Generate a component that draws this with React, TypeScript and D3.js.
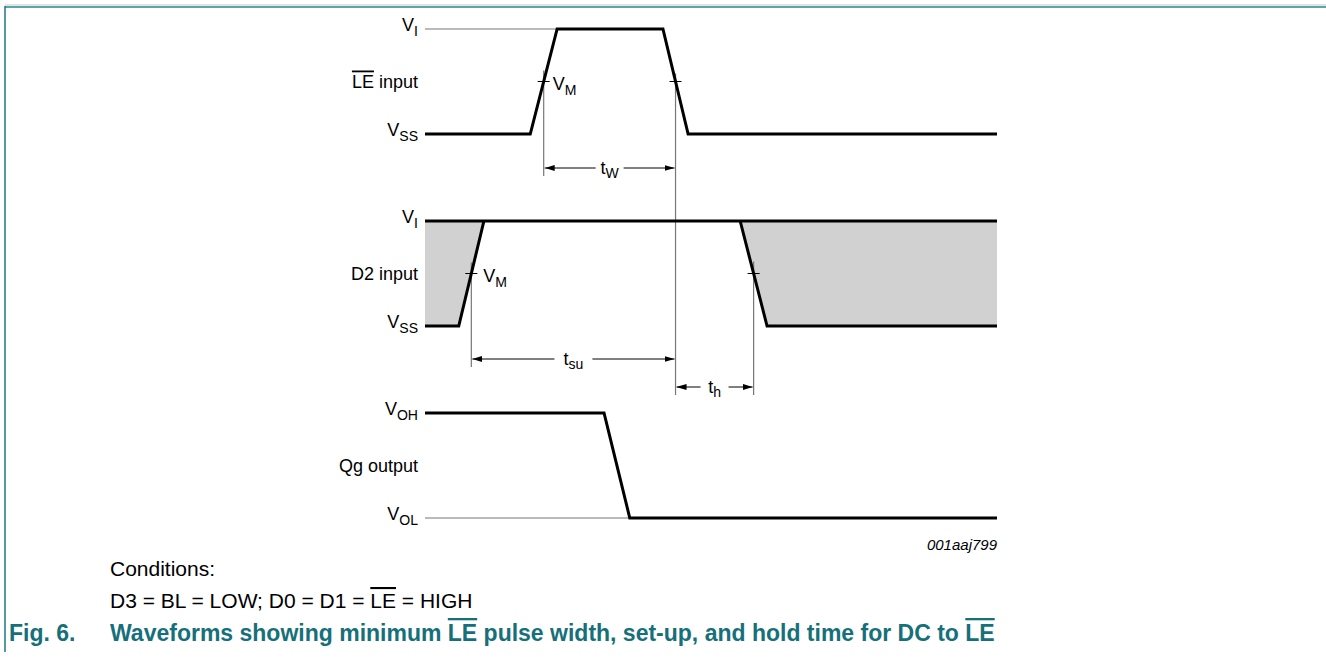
import * as d3 from "d3"

// waveform breakpoints: time (0..100) and logic level (0 = low, 1 = high)
const leTimes = [0, 18.4, 23.1, 41.6, 46.0, 100]
const leLevels = [0, 0, 1, 1, 0, 0]

const d2RiseTimes = [0, 5.9, 10.3]
const d2RiseLevels = [0, 0, 1]
const d2HighTimes = [0, 100]
const d2HighLevels = [1, 1]
const d2FallTimes = [55.1, 59.8, 100]
const d2FallLevels = [1, 0, 0]

const qgTimes = [0, 31.3, 35.8, 100]
const qgLevels = [1, 1, 0, 0]

// threshold crossings (V_M) used for the timing arrows
const leRiseVM = (leTimes[1] + leTimes[2]) / 2
const leFallVM = (leTimes[3] + leTimes[4]) / 2
const d2RiseVM = (d2RiseTimes[1] + d2RiseTimes[2]) / 2
const d2FallVM = (d2FallTimes[0] + d2FallTimes[1]) / 2

const rowNames = ["LE", "D2", "Qg"]
const highLabels = ["I", "I", "OH"]
const lowLabels = ["SS", "SS", "OL"]

const W = 1326
const H = 672
const FONT = "'Liberation Sans', Arial, Helvetica, sans-serif"
const TEAL = "#16707a"

const x = d3.scaleLinear().domain([0, 100]).range([425, 997])
const rowTop = d3.scalePoint().domain(rowNames).range([29, 413])
const rowH = 105
const yRow = (name) => d3.scaleLinear().domain([0, 1]).range([rowTop(name) + rowH, rowTop(name)])

const line = (times, levels, y) =>
  d3.line()(times.map((t, i) => [x(t), y(levels[i])]))

function Sub({ base, sub, size = 18 }) {
  return (
    <>
      <tspan>{base}</tspan>
      <tspan dy={5} fontSize={size * 0.78}>{sub}</tspan>
    </>
  )
}

function RowLabels({ name, label, overline }) {
  const y = yRow(name)
  const i = rowNames.indexOf(name)
  return (
    <g fontFamily={FONT} fontSize={18} fill="#000" textAnchor="end">
      <text x={418} y={y(1) + 2}>
        <Sub base="V" sub={highLabels[i]} />
      </text>
      <text x={418} y={y(0.5) + 6}>
        {overline ? <tspan style={{ textDecoration: "overline" }}>{overline}</tspan> : null}
        <tspan>{label}</tspan>
      </text>
      <text x={418} y={y(0) + 2}>
        <Sub base="V" sub={lowLabels[i]} />
      </text>
    </g>
  )
}

function Tick({ t, y }) {
  return <line x1={x(t) - 6} x2={x(t) + 6} y1={y} y2={y} stroke="#000" strokeWidth={1} />
}

function Dim({ t0, t1, y, label, sub }) {
  const x0 = x(t0)
  const x1 = x(t1)
  const mid = (x0 + x1) / 2
  const gap = sub.length > 1 ? 19 : 14
  return (
    <g>
      <line x1={x0 + 1} x2={mid - gap} y1={y} y2={y} stroke="#000" strokeWidth={1} markerStart="url(#arrowL)" />
      <line x1={mid + gap} x2={x1 - 1} y1={y} y2={y} stroke="#000" strokeWidth={1} markerEnd="url(#arrowR)" />
      <text x={mid} y={y + 6} textAnchor="middle" fontFamily={FONT} fontSize={18}>
        <tspan>{label}</tspan>
        <tspan dy={4} fontSize={14}>{sub}</tspan>
      </text>
    </g>
  )
}

export default function App() {
  const yLE = yRow("LE")
  const yD2 = yRow("D2")
  const yQ = yRow("Qg")
  const thick = { fill: "none", stroke: "#000", strokeWidth: 3, strokeLinejoin: "miter" as const }
  const thin = { stroke: "#777", strokeWidth: 1.2 }

  const d2Left = [
    [x(0), yD2(1)],
    [x(d2RiseTimes[2]), yD2(1)],
    [x(d2RiseTimes[1]), yD2(0)],
    [x(0), yD2(0)],
  ]
  const d2Right = [
    [x(d2FallTimes[0]), yD2(1)],
    [x(100), yD2(1)],
    [x(100), yD2(0)],
    [x(d2FallTimes[1]), yD2(0)],
  ]
  const poly = (pts) => d3.line()(pts) + "Z"

  const tWy = yLE(0) + 34
  const tSuY = yD2(0) + 33
  const tHY = yD2(0) + 61

  return (
    <svg
      width={W}
      height={H}
      style={{ position: "fixed", left: 0, top: 0, background: "#fff" }}
    >
      <defs>
        <marker id="arrowR" viewBox="0 0 10 6" refX={10} refY={3} markerWidth={10} markerHeight={6} markerUnits="userSpaceOnUse" orient="auto">
          <path d="M0,0L10,3L0,6Z" fill="#000" />
        </marker>
        <marker id="arrowL" viewBox="0 0 10 6" refX={0} refY={3} markerWidth={10} markerHeight={6} markerUnits="userSpaceOnUse" orient="auto">
          <path d="M10,0L0,3L10,6Z" fill="#000" />
        </marker>
      </defs>

      {/* frame */}
      <line x1={5} x2={W} y1={5} y2={5} stroke="#c8c8c8" strokeWidth={1} />
      <line x1={5} x2={W} y1={7} y2={7} stroke="#5aa6ab" strokeWidth={2} />
      <line x1={5} x2={5} y1={6} y2={652} stroke="#1b7880" strokeWidth={1.5} />

      {/* D2 undefined regions */}
      <path d={poly(d2Left)} fill="#d1d1d1" />
      <path d={poly(d2Right)} fill="#d1d1d1" />

      {/* reference levels */}
      <line x1={x(0)} x2={x(leTimes[2])} y1={yLE(1)} y2={yLE(1)} {...thin} />
      <line x1={x(0)} x2={x(qgTimes[2])} y1={yQ(0)} y2={yQ(0)} {...thin} />

      {/* vertical timing references */}
      <line x1={x(leRiseVM)} x2={x(leRiseVM)} y1={yLE(0.5) - 11} y2={tWy + 8} {...thin} />
      <line x1={x(leFallVM)} x2={x(leFallVM)} y1={yLE(0.5) - 8} y2={tHY + 8} {...thin} />
      <line x1={x(d2RiseVM)} x2={x(d2RiseVM)} y1={yD2(0.5) - 11} y2={tSuY + 8} {...thin} />
      <line x1={x(d2FallVM)} x2={x(d2FallVM)} y1={yD2(0.5) - 12} y2={tHY + 8} {...thin} />

      {/* waveforms */}
      <path d={line(leTimes, leLevels, yLE)} {...thick} />
      <path d={line(d2RiseTimes, d2RiseLevels, yD2)} {...thick} />
      <path d={line(d2HighTimes, d2HighLevels, yD2)} {...thick} />
      <path d={line(d2FallTimes, d2FallLevels, yD2)} {...thick} />
      <path d={line(qgTimes, qgLevels, yQ)} {...thick} />

      {/* V_M marks */}
      <Tick t={leRiseVM} y={yLE(0.5)} />
      <Tick t={leFallVM} y={yLE(0.5)} />
      <Tick t={d2RiseVM} y={yD2(0.5)} />
      <Tick t={d2FallVM} y={yD2(0.5)} />
      <text x={x(leRiseVM) + 9} y={yLE(0.5) + 8} fontFamily={FONT} fontSize={18}>
        <Sub base="V" sub="M" />
      </text>
      <text x={x(d2RiseVM) + 12} y={yD2(0.5) + 8} fontFamily={FONT} fontSize={18}>
        <Sub base="V" sub="M" />
      </text>

      {/* timing arrows */}
      <Dim t0={leRiseVM} t1={leFallVM} y={tWy} label="t" sub="W" />
      <Dim t0={d2RiseVM} t1={leFallVM} y={tSuY} label="t" sub="su" />
      <Dim t0={leFallVM} t1={d2FallVM} y={tHY} label="t" sub="h" />

      {/* row labels */}
      <RowLabels name="LE" overline="LE" label=" input" />
      <RowLabels name="D2" label="D2 input" />
      <RowLabels name="Qg" label="Qg output" />

      <text x={x(100)} y={yQ(0) + 32} textAnchor="end" fontFamily={FONT} fontSize={15} fontStyle="italic">
        001aaj799
      </text>

      {/* notes and caption */}
      <g fontFamily={FONT} fontSize={21}>
        <text x={110} y={576}>Conditions:</text>
        <text x={110} y={608}>
          <tspan>D3 = BL = LOW; D0 = D1 = </tspan>
          <tspan style={{ textDecoration: "overline" }}>LE</tspan>
          <tspan> = HIGH</tspan>
        </text>
      </g>
      <g fontFamily={FONT} fontSize={23} fontWeight="bold" fill={TEAL}>
        <text x={9} y={641}>Fig. 6.</text>
        <text x={110} y={641}>
          <tspan>Waveforms showing minimum </tspan>
          <tspan style={{ textDecoration: "overline" }}>LE</tspan>
          <tspan> pulse width, set-up, and hold time for DC to </tspan>
          <tspan style={{ textDecoration: "overline" }}>LE</tspan>
        </text>
      </g>
    </svg>
  )
}
